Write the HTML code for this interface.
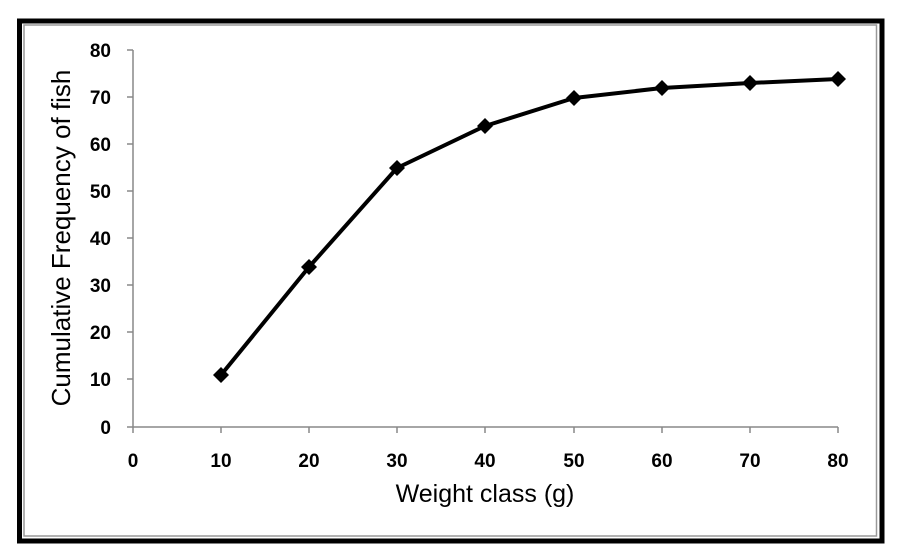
<!DOCTYPE html>
<html><head><style>body{margin:0;background:#fff}svg{display:block}</style></head><body>
<svg width="898" height="560" xmlns="http://www.w3.org/2000/svg" font-family="Liberation Sans, sans-serif">
<rect width="898" height="560" fill="#fff"/>
<rect x="19.5" y="21" width="862.5" height="520" fill="none" stroke="#000" stroke-width="5"/>
<rect x="24" y="25" width="852.5" height="511" fill="none" stroke="#999" stroke-width="1.5"/>
<g stroke="#888" stroke-width="1.5" fill="none">
<path d="M133 50 V427 H838"/>
<path d="M127 50H133M127 97H133M127 144H133M127 191H133M127 238H133M127 285H133M127 332H133M127 379H133M127 427H133"/>
<path d="M133 427V433M221 427V433M309 427V433M397 427V433M485 427V433M574 427V433M662 427V433M750 427V433M838 427V433"/>
</g>
<g font-size="19" font-weight="bold" text-anchor="end">
<text x="111" y="57">80</text><text x="111" y="104">70</text><text x="111" y="151">60</text><text x="111" y="198">50</text><text x="111" y="245">40</text><text x="111" y="292">30</text><text x="111" y="339">20</text><text x="111" y="386">10</text><text x="111" y="434">0</text>
</g>
<g font-size="19" font-weight="bold" text-anchor="middle">
<text x="133" y="467">0</text><text x="221" y="467">10</text><text x="309" y="467">20</text><text x="397" y="467">30</text><text x="485" y="467">40</text><text x="574" y="467">50</text><text x="662" y="467">60</text><text x="750" y="467">70</text><text x="838" y="467">80</text>
</g>
<text x="485" y="502" font-size="25" text-anchor="middle">Weight class (g)</text>
<text transform="translate(70,238) rotate(-90)" font-size="26" text-anchor="middle">Cumulative Frequency of fish</text>
<polyline fill="none" stroke="#000" stroke-width="4" stroke-linejoin="round" points="221,375 309,267 397,168 485,126 574,98 662,88 750,83 838,79"/>
<g fill="#000">
<path d="M221 367l8 8-8 8-8-8z"/><path d="M309 259l8 8-8 8-8-8z"/><path d="M397 160l8 8-8 8-8-8z"/><path d="M485 118l8 8-8 8-8-8z"/><path d="M574 90l8 8-8 8-8-8z"/><path d="M662 80l8 8-8 8-8-8z"/><path d="M750 75l8 8-8 8-8-8z"/><path d="M838 71l8 8-8 8-8-8z"/>
</g>
</svg>
</body></html>
